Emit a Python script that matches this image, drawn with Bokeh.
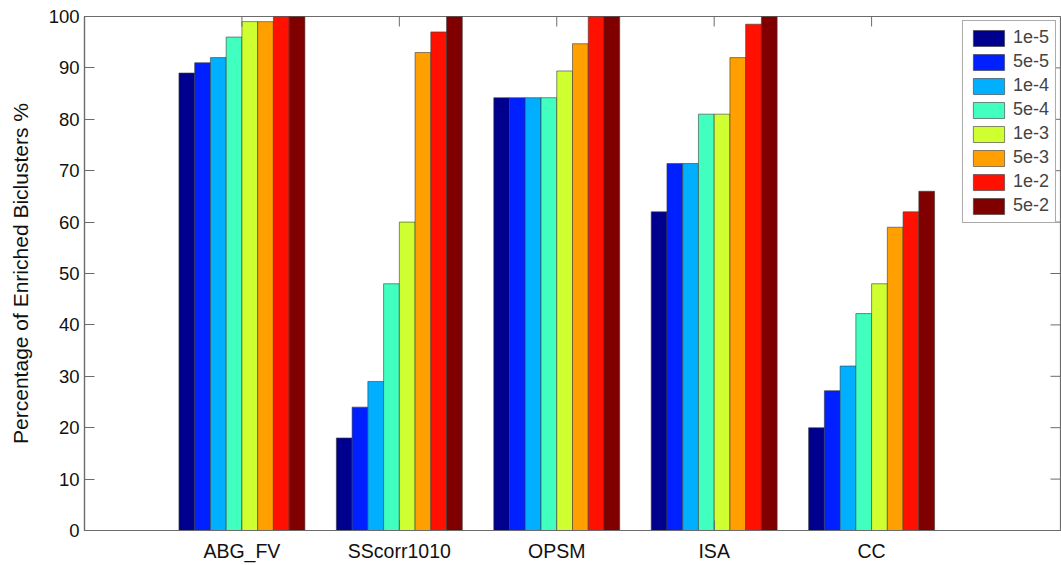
from bokeh.plotting import figure
from bokeh.models import Range1d, FixedTicker, Legend, LegendItem
from bokeh.embed import file_html
from bokeh.resources import INLINE

methods = ["ABG_FV", "SScorr1010", "OPSM", "ISA", "CC"]
thresholds = ["1e-5", "5e-5", "1e-4", "5e-4", "1e-3", "5e-3", "1e-2", "5e-2"]
colors = ["#00008F", "#0020FF", "#00AFFF", "#40FFBF", "#CFFF30", "#FF9F00", "#FF1000", "#800000"]

v_1e5 = [89, 18, 84.2, 62, 20]
v_5e5 = [91, 24, 84.2, 71.4, 27.2]
v_1e4 = [92, 29, 84.2, 71.4, 32]
v_5e4 = [96, 48, 84.2, 81, 42.2]
v_1e3 = [99, 60, 89.4, 81, 48]
v_5e3 = [99, 93, 94.7, 92, 59]
v_1e2 = [100, 97, 100, 98.5, 62]
v_5e2 = [100, 100, 100, 100, 66]
series = [v_1e5, v_5e5, v_1e4, v_5e4, v_1e3, v_5e3, v_1e2, v_5e2]

yticks = [0, 10, 20, 30, 40, 50, 60, 70, 80, 90, 100]

FONT = "Liberation Sans"
AX = "#6b6b6b"
W, H = 1061, 565
BL, BR, BT, BB = 84, 1, 16, 35
X0, X1, Y0, Y1 = 0, 6.2, 0, 100
TICK = 10

p = figure(width=W, height=H, output_backend="svg", toolbar_location=None,
           x_range=Range1d(X0, X1), y_range=Range1d(Y0, Y1),
           min_border_left=BL, min_border_right=BR, min_border_top=BT, min_border_bottom=BB)
p.xgrid.visible = False
p.ygrid.visible = False
p.outline_line_color = AX
p.outline_line_width = 1.2
p.background_fill_color = "white"
p.border_fill_color = "white"

positions = list(range(1, len(methods) + 1))
n = len(thresholds)
bw = 0.1
items = []
for i, (lab, col, vals) in enumerate(zip(thresholds, colors, series)):
    xs = [g + (i - (n - 1) / 2) * bw for g in positions]
    r = p.vbar(x=xs, top=vals, bottom=0, width=bw, fill_color=col,
               line_color="#3a3a3a", line_width=0.6)
    items.append(LegendItem(label=lab, renderers=[r]))

# mirrored inward ticks on the top and right edges (box on)
frame_w = W - BL - BR
frame_h = H - BT - BB
dx = TICK * (X1 - X0) / frame_w
dy = TICK * (Y1 - Y0) / frame_h
p.segment(x0=positions, x1=positions, y0=[Y1] * len(positions), y1=[Y1 - dy] * len(positions),
          line_color=AX, line_width=1)
p.segment(x0=[X1] * len(yticks), x1=[X1 - dx] * len(yticks), y0=yticks, y1=yticks,
          line_color=AX, line_width=1)

xa = p.xaxis[0]
xa.ticker = FixedTicker(ticks=positions)
xa.major_label_overrides = {pos: m for pos, m in zip(positions, methods)}
ya = p.yaxis[0]
ya.ticker = FixedTicker(ticks=yticks)
ya.axis_label = "Percentage of Enriched Biclusters %"
for ax in (xa, ya):
    ax.axis_line_color = AX
    ax.axis_line_width = 1.2
    ax.major_tick_line_color = AX
    ax.major_tick_in = TICK
    ax.major_tick_out = 0
    ax.minor_tick_line_color = None
    ax.major_label_text_font = FONT
    ax.major_label_text_color = "#111111"
xa.major_label_text_font_size = "19.5px"
ya.major_label_text_font_size = "18.5px"
xa.major_label_standoff = 9
ya.major_label_standoff = 5
ya.axis_label_text_font = FONT
ya.axis_label_text_font_size = "21px"
ya.axis_label_text_font_style = "normal"
ya.axis_label_text_color = "#111111"
ya.axis_label_standoff = 14

legend = Legend(items=items, location="top_right")
legend.margin = 4
legend.padding = 6
legend.spacing = 3
legend.glyph_width = 39
legend.glyph_height = 20
legend.label_text_font = FONT
legend.label_text_font_size = "18px"
legend.label_standoff = 5
legend.label_height = 20
legend.border_line_color = "#555555"
legend.border_line_width = 1
legend.background_fill_alpha = 1
p.add_layout(legend)

open("out.html", "w").write(file_html(p, INLINE))
